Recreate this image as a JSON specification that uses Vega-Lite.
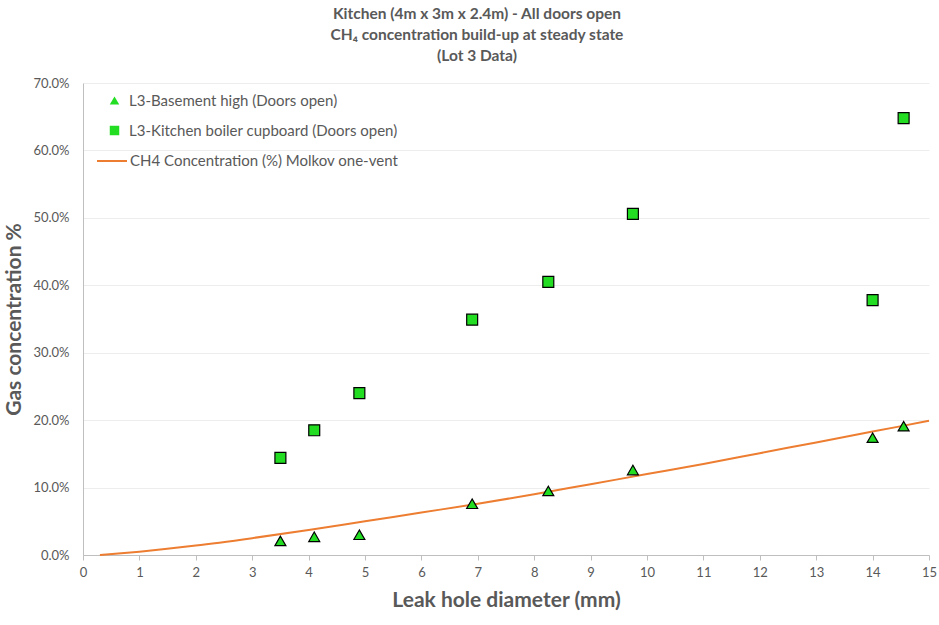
{
  "$schema": "https://vega.github.io/schema/vega-lite/v6.json",
  "autosize": "none",
  "width": 846,
  "height": 472,
  "padding": {"left": 83, "top": 83, "right": 10, "bottom": 70},
  "background": "white",
  "config": {"view": {"stroke": null}, "font": "Lato", "legend": {"padding": 0}},
  "title": {
    "text": ["Kitchen (4m x 3m x 2.4m) - All doors open", "CH₄ concentration build-up at steady state", "(Lot 3 Data)"],
    "fontSize": 15.5,
    "fontWeight": "bold",
    "color": "#595959",
    "font": "Lato",
    "anchor": "middle",
    "dx": -29,
    "offset": 13,
    "lineHeight": 21
  },
  "datasets": {
    "pts": [
      {"d": 3.5, "c": 0.021, "series": "L3-Basement high (Doors open)"},
      {"d": 4.1, "c": 0.027, "series": "L3-Basement high (Doors open)"},
      {"d": 4.9, "c": 0.030, "series": "L3-Basement high (Doors open)"},
      {"d": 6.9, "c": 0.076, "series": "L3-Basement high (Doors open)"},
      {"d": 8.25, "c": 0.095, "series": "L3-Basement high (Doors open)"},
      {"d": 9.75, "c": 0.126, "series": "L3-Basement high (Doors open)"},
      {"d": 14.0, "c": 0.174, "series": "L3-Basement high (Doors open)"},
      {"d": 14.55, "c": 0.191, "series": "L3-Basement high (Doors open)"},
      {"d": 3.5, "c": 0.144, "series": "L3-Kitchen boiler cupboard (Doors open)"},
      {"d": 4.1, "c": 0.185, "series": "L3-Kitchen boiler cupboard (Doors open)"},
      {"d": 4.9, "c": 0.240, "series": "L3-Kitchen boiler cupboard (Doors open)"},
      {"d": 6.9, "c": 0.349, "series": "L3-Kitchen boiler cupboard (Doors open)"},
      {"d": 8.25, "c": 0.405, "series": "L3-Kitchen boiler cupboard (Doors open)"},
      {"d": 9.75, "c": 0.506, "series": "L3-Kitchen boiler cupboard (Doors open)"},
      {"d": 14.0, "c": 0.378, "series": "L3-Kitchen boiler cupboard (Doors open)"},
      {"d": 14.55, "c": 0.648, "series": "L3-Kitchen boiler cupboard (Doors open)"}
    ],
    "model": [
      {"d": 0.3, "c": 0.0, "series": "CH4 Concentration (%)  Molkov one-vent"},
      {"d": 1, "c": 0.005, "series": "CH4 Concentration (%)  Molkov one-vent"},
      {"d": 2, "c": 0.014, "series": "CH4 Concentration (%)  Molkov one-vent"},
      {"d": 3, "c": 0.025, "series": "CH4 Concentration (%)  Molkov one-vent"},
      {"d": 4, "c": 0.037, "series": "CH4 Concentration (%)  Molkov one-vent"},
      {"d": 5, "c": 0.050, "series": "CH4 Concentration (%)  Molkov one-vent"},
      {"d": 6, "c": 0.063, "series": "CH4 Concentration (%)  Molkov one-vent"},
      {"d": 7, "c": 0.076, "series": "CH4 Concentration (%)  Molkov one-vent"},
      {"d": 8, "c": 0.090, "series": "CH4 Concentration (%)  Molkov one-vent"},
      {"d": 9, "c": 0.105, "series": "CH4 Concentration (%)  Molkov one-vent"},
      {"d": 10, "c": 0.120, "series": "CH4 Concentration (%)  Molkov one-vent"},
      {"d": 11, "c": 0.135, "series": "CH4 Concentration (%)  Molkov one-vent"},
      {"d": 12, "c": 0.151, "series": "CH4 Concentration (%)  Molkov one-vent"},
      {"d": 13, "c": 0.167, "series": "CH4 Concentration (%)  Molkov one-vent"},
      {"d": 14, "c": 0.183, "series": "CH4 Concentration (%)  Molkov one-vent"},
      {"d": 15, "c": 0.199, "series": "CH4 Concentration (%)  Molkov one-vent"}
    ]
  },
  "encoding": {
    "x": {
      "field": "d", "type": "quantitative",
      "scale": {"domain": [0, 15], "nice": false},
      "axis": {
        "title": "Leak hole diameter (mm)", "values": [0,1,2,3,4,5,6,7,8,9,10,11,12,13,14,15],
        "grid": false, "domainColor": "#BFBFBF", "tickColor": "#BFBFBF", "tickSize": 5,
        "labelColor": "#595959", "labelFontSize": 13, "labelPadding": 6, "labelOverlap": false, "labelFlush": false, "labelBound": false,
        "titleFontSize": 21, "titleFontWeight": "bold", "titleColor": "#595959", "titlePadding": 10
      }
    },
    "y": {
      "field": "c", "type": "quantitative",
      "scale": {"domain": [0, 0.7], "nice": false},
      "axis": {
        "title": "Gas concentration %", "format": ".1%", "values": [0,0.1,0.2,0.3,0.4,0.5,0.6,0.7],
        "grid": true, "gridColor": "#EDEDED", "domainColor": "#BFBFBF", "ticks": false,
        "labelColor": "#595959", "labelFontSize": 13, "labelPadding": 14, "labelOverlap": false, "labelBound": false, "labelFlush": false,
        "titleFontSize": 21, "titleFontWeight": "bold", "titleColor": "#595959", "titlePadding": 8
      }
    }
  },
  "layer": [
    {
      "data": {"name": "model"},
      "mark": {"type": "line", "strokeWidth": 2, "interpolate": "monotone"},
      "encoding": {
        "stroke": {"field": "series", "type": "nominal",
          "scale": {"range": ["#ED7D31"]},
          "legend": {
            "title": null, "orient": "none", "legendX": 13, "legendY": 62,
            "labelFontSize": 15, "labelColor": "#595959", "symbolType": "stroke", "labelLimit": 0,
            "symbolSize": 900, "symbolStrokeWidth": 2, "labelOffset": 2
          }}
      }
    },
    {
      "data": {"name": "pts"},
      "mark": {"type": "point", "filled": true, "color": "#22DD22", "stroke": "black", "strokeWidth": 1.2, "opacity": 1, "size": 120},
      "encoding": {
        "shape": {"field": "series", "type": "nominal",
          "scale": {"domain": ["L3-Basement high (Doors open)", "L3-Kitchen boiler cupboard (Doors open)"],
                    "range": ["triangle-up", "square"]},
          "legend": {
            "title": null, "orient": "none", "legendX": 24, "legendY": 10,
            "labelFontSize": 15, "labelColor": "#595959", "rowPadding": 14, "symbolSize": 90, "labelLimit": 0,
            "symbolFillColor": "#22DD22", "symbolStrokeColor": "black", "symbolStrokeWidth": 1.2,
            "symbolOpacity": 1, "labelOffset": 7,
            "encode": {"symbols": {"stroke": {"value": "black"}, "strokeOpacity": {"value": 1}, "strokeWidth": {"value": 1.2}, "fill": {"value": "#22DD22"}}}
          }}
      }
    }
  ]
}
